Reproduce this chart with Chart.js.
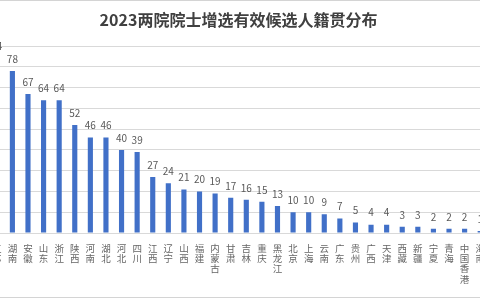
<!DOCTYPE html>
<html>
<head>
<meta charset="utf-8">
<script src="https://cdn.jsdelivr.net/npm/chart.js@4"></script>
<style>
    html, body { margin:0; padding:0; background:#fff; }
    body { width:480px; height:300px; position:relative; overflow:hidden; }
    #chartBox { position:absolute; left:-11px; top:0; }
    .edge { position:absolute; left:0; width:480px; height:1px; background:#d4d4d4; }
</style>
</head>
<body>
<div id="chartBox"><canvas id="nativeChart" width="499" height="300"></canvas></div>
<div class="edge" style="top:0"></div>
<div class="edge" style="top:297px"></div>

<script>
const TITLE = "2023两院院士增选有效候选人籍贯分布";

const provinces = ["江苏","湖南","安徽","山东","浙江","陕西","河南","湖北","河北","四川",
    "江西","辽宁","山西","福建","内蒙古","甘肃","吉林","重庆","黑龙江","北京",
    "上海","云南","广东","贵州","广西","天津","西藏","新疆","宁夏","青海",
    "中国香港","海南"];
const candidates = [84,78,67,64,64,52,46,46,40,39,
    27,24,21,20,19,17,16,15,13,10,
    10,9,7,5,4,4,3,3,2,2,
    2,1];
const yMax = 90;
const yStep = 10;

const FONT = '"Noto Sans CJK SC", "Noto Sans", sans-serif';

// numbers above the bars
const barValueLabels = {
    id: "barValueLabels",
    afterDatasetsDraw(chart){
        const ctx = chart.ctx;
        const meta = chart.getDatasetMeta(0);
        ctx.save();
        ctx.font = "10px " + FONT;
        ctx.fillStyle = "#595959";
        ctx.textAlign = "center";
        ctx.textBaseline = "middle";
        meta.data.forEach((bar, i) => {
            ctx.fillText(candidates[i], bar.x, bar.y - 12);
        });
        ctx.restore();
    }
};

window.addEventListener("DOMContentLoaded", ()=>{
    const ctx = document.getElementById("nativeChart");

    new Chart(ctx, {
        type:"bar",
        data:{
            labels: provinces.map(p => Array.from(p)),
            datasets:[{
                label:"候选人数",
                data:candidates,
                backgroundColor:"#4170c8",
                barPercentage:0.33,
                categoryPercentage:1
            }]
        },
        options:{
            responsive:false,
            animation:false,
            layout:{ padding:0 },
            plugins:{
                legend:{ display:false },
                tooltip:{ enabled:false },
                title:{
                    display:true,
                    text:TITLE,
                    color:"#404040",
                    font:{ family:FONT, size:16, weight:"bold" },
                    padding:{ top:10, bottom:17 }
                }
            },
            scales:{
                x:{
                    grid:{ display:false },
                    border:{ display:false },
                    ticks:{
                        autoSkip:false,
                        maxRotation:0,
                        minRotation:0,
                        padding:2,
                        color:"#666666",
                        font:{ family:FONT, size:9.5, lineHeight:1.08 }
                    },
                    afterFit: scale => { scale.height = 67; }
                },
                y:{
                    min:0,
                    max:yMax,
                    ticks:{ display:false, stepSize:yStep },
                    grid:{ color:"#d9d9d9", drawTicks:false },
                    border:{ display:false }
                }
            }
        },
        plugins:[barValueLabels]
    });
});
</script>
</body>
</html>
